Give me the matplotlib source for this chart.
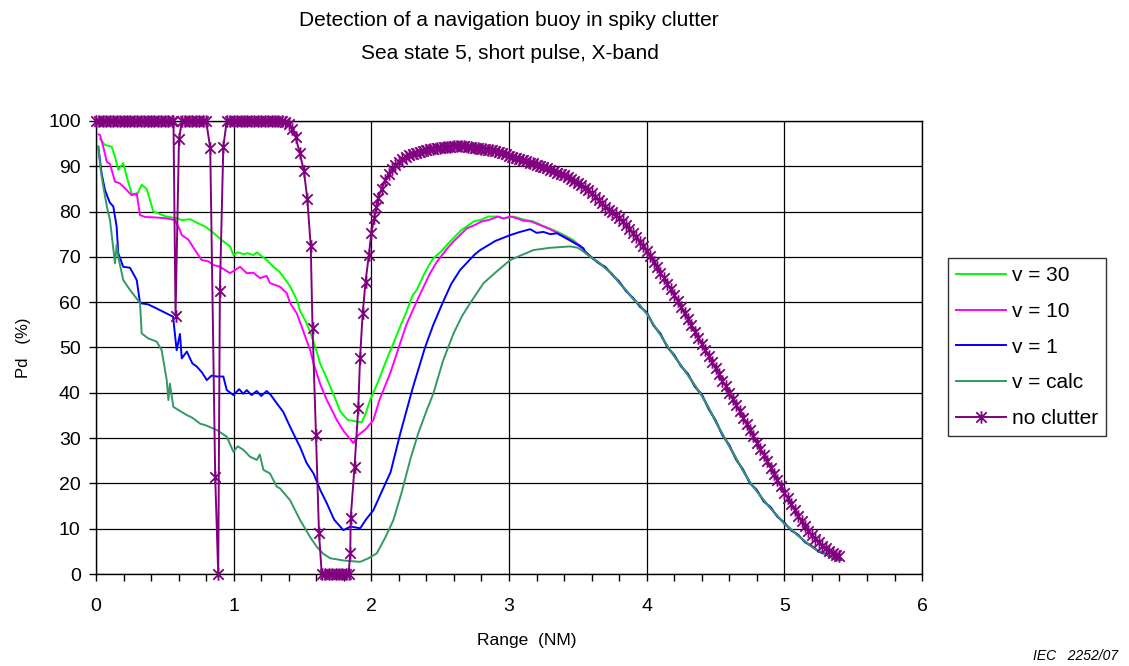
import numpy as np
import matplotlib
matplotlib.use('Agg')
import matplotlib.pyplot as plt
from matplotlib.path import Path
from matplotlib.ticker import MultipleLocator

plt.rcParams['font.family'] = ['Liberation Sans', 'DejaVu Sans']

# ---- data ----
# shared tail where all clutter curves merge (range in NM, Pd in %)
tail_range = [3.55, 3.6, 3.65, 3.7, 3.75, 3.8, 3.85, 3.9, 3.95, 4.0, 4.05, 4.1, 4.15, 4.2,
              4.25, 4.3, 4.35, 4.4, 4.45, 4.5, 4.55, 4.6, 4.65, 4.7, 4.75, 4.8, 4.85, 4.9,
              4.95, 5.0, 5.05, 5.1, 5.15, 5.2, 5.25, 5.3, 5.35, 5.4]
tail_pd = [71.0, 69.8, 68.8, 67.5, 66.2, 64.3, 62.6, 60.8, 59.3, 57.5, 55.0, 52.8, 50.3, 48.1,
           46.0, 43.9, 41.6, 39.4, 36.7, 33.7, 30.9, 28.2, 25.5, 22.8, 20.3, 18.3, 16.3, 14.5,
           12.8, 11.1, 9.8, 8.5, 7.2, 6.0, 5.1, 4.3, 3.6, 3.1]
tail_pd_v1 = [71.3, 69.9, 68.6, 67.8, 66.0, 64.6, 62.4, 61.0, 59.0, 57.8, 54.8, 53.1, 50.0, 48.4,
              45.8, 44.2, 41.3, 39.7, 36.4, 34.0, 30.6, 28.5, 25.2, 23.1, 20.0, 18.6, 16.0, 14.8,
              12.6, 11.4, 9.6, 8.7, 7.0, 6.2, 4.9, 4.5, 3.5, 3.2]

v30_range = [0.03, 0.065, 0.114, 0.138, 0.162, 0.198, 0.223, 0.259, 0.296, 0.332, 0.368,
             0.392, 0.416, 0.453, 0.5, 0.55, 0.6, 0.623, 0.683, 0.743, 0.792, 0.841, 0.913,
             0.974, 0.998, 1.03, 1.07, 1.1, 1.143, 1.17, 1.192, 1.24, 1.289, 1.33, 1.361,
             1.41, 1.459, 1.483, 1.52, 1.555, 1.592, 1.628, 1.664, 1.70, 1.737, 1.773, 1.797,
             1.83, 1.87, 1.9, 1.93, 1.96, 1.991, 2.05, 2.1, 2.16, 2.209, 2.25, 2.3, 2.33, 2.38,
             2.427, 2.451, 2.5, 2.573, 2.65, 2.742, 2.8, 2.85, 2.912, 2.96, 3.033, 3.1, 3.178,
             3.25, 3.347, 3.4, 3.469, 3.52]
v30_pd = [96.0, 94.7, 94.3, 92.1, 89.2, 90.7, 87.7, 84.0, 83.6, 85.9, 85.0,
          82.6, 80.0, 79.6, 79.0, 78.7, 78.4, 78.1, 78.3, 77.4, 76.7, 75.6, 73.7,
          72.3, 70.4, 71.0, 70.6, 70.8, 70.4, 71.0, 70.4, 69.3, 67.8, 66.8, 65.6,
          63.5, 60.5, 58.0, 56.0, 53.5, 50.2, 46.5, 44.0, 41.5, 38.8, 36.0, 35.1,
          34.0, 33.8, 33.6, 33.5, 35.5, 38.4, 42.5, 46.5, 50.9, 54.6, 57.5, 61.5, 62.7, 66.0,
          68.6, 69.7, 71.0, 73.4, 75.8, 77.8, 78.2, 78.9, 78.9, 78.4, 78.9, 78.3, 77.8,
          76.8, 75.6, 74.8, 73.7, 72.2]

v10_range = [0.02, 0.029, 0.053, 0.078, 0.102, 0.138, 0.174, 0.211, 0.259, 0.296, 0.32,
             0.356, 0.429, 0.514, 0.574, 0.61, 0.623, 0.671, 0.719, 0.768, 0.817, 0.853,
             0.901, 0.974, 1.047, 1.095, 1.143, 1.192, 1.24, 1.264, 1.337, 1.385, 1.41,
             1.459, 1.507, 1.555, 1.58, 1.628, 1.677, 1.725, 1.749, 1.8, 1.84, 1.87, 1.9,
             1.96, 2.015, 2.06, 2.137, 2.209, 2.258, 2.35, 2.427, 2.476, 2.55, 2.6, 2.694,
             2.75, 2.8, 2.86, 2.92, 2.96, 3.01, 3.06, 3.1, 3.16, 3.227, 3.29, 3.35, 3.42, 3.517]
v10_pd = [97.0, 96.9, 94.3, 91.0, 90.5, 86.6, 86.2, 85.1, 83.6, 84.0, 79.2,
          78.8, 78.7, 78.5, 78.1, 75.9, 74.8, 73.8, 71.5, 69.3, 69.0, 68.2,
          67.8, 66.4, 67.8, 66.4, 66.5, 65.3, 65.8, 64.2, 63.4, 62.0, 59.8,
          57.5, 53.5, 49.5, 46.5, 42.0, 38.4, 35.5, 34.0, 31.5, 30.0, 28.9, 30.5,
          32.0, 34.0, 38.5, 44.3, 50.9, 55.3, 61.5, 66.4, 68.9, 71.8, 73.5, 76.3,
          77.0, 77.8, 78.2, 78.9, 78.5, 78.9, 78.5, 78.0, 77.8, 77.0, 76.2, 75.3, 74.2, 72.5]

v1_range = [0.017, 0.041, 0.065, 0.1, 0.126, 0.15, 0.162, 0.198, 0.247, 0.296, 0.32, 0.38,
            0.441, 0.514, 0.56, 0.586, 0.61, 0.623, 0.66, 0.70, 0.732, 0.77, 0.805, 0.84,
            0.877, 0.925, 0.95, 0.998, 1.04, 1.07, 1.095, 1.13, 1.168, 1.2, 1.24, 1.27,
            1.313, 1.36, 1.41, 1.45, 1.483, 1.53, 1.58, 1.63, 1.677, 1.73, 1.797, 1.85,
            1.919, 1.96, 2.015, 2.08, 2.14, 2.21, 2.30, 2.39, 2.45, 2.52, 2.58, 2.645, 2.75,
            2.791, 2.9, 3.009, 3.08, 3.154, 3.2, 3.25, 3.3, 3.348, 3.45, 3.541]
v1_pd = [94.3, 88.4, 84.8, 82.0, 81.1, 76.7, 70.8, 67.8, 67.6, 64.9, 59.8, 59.5,
         58.6, 57.5, 56.8, 49.4, 53.0, 47.6, 49.1, 46.5, 45.8, 44.5, 42.8, 43.8,
         43.6, 43.6, 40.6, 39.5, 40.8, 39.8, 40.6, 39.5, 40.4, 39.3, 40.4, 39.5,
         37.7, 35.8, 32.5, 30.0, 28.0, 24.5, 22.2, 18.5, 15.6, 12.0, 9.7, 10.5,
         10.1, 12.0, 14.1, 18.5, 22.5, 31.0, 41.0, 50.0, 55.0, 60.0, 64.0, 67.1, 70.5,
         71.5, 73.5, 74.8, 75.5, 76.1, 75.3, 75.5, 75.0, 75.2, 73.5, 71.9]

calc_range = [0.017, 0.035, 0.053, 0.08, 0.102, 0.138, 0.15, 0.162, 0.198, 0.247, 0.29, 0.32,
              0.332, 0.38, 0.441, 0.477, 0.514, 0.526, 0.537, 0.562, 0.61, 0.659, 0.7, 0.756,
              0.8, 0.877, 0.95, 0.998, 1.03, 1.071, 1.119, 1.168, 1.19, 1.216, 1.264, 1.313,
              1.337, 1.41, 1.483, 1.555, 1.604, 1.65, 1.701, 1.8, 1.919, 1.98, 2.04, 2.1,
              2.16, 2.22, 2.282, 2.34, 2.403, 2.451, 2.52, 2.597, 2.66, 2.718, 2.815, 2.9,
              3.009, 3.1, 3.178, 3.3, 3.445, 3.5]
calc_pd = [94.3, 89.0, 85.5, 81.0, 78.1, 68.6, 72.6, 70.0, 64.9, 62.7, 61.0, 59.8,
           53.1, 52.0, 51.3, 49.4, 42.8, 38.4, 42.0, 36.9, 36.0, 35.1, 34.5, 33.2,
           32.8, 31.8, 30.3, 27.0, 28.2, 27.4, 25.9, 25.2, 26.4, 23.0, 22.2, 19.3,
           18.9, 16.3, 11.9, 8.2, 6.0, 4.5, 3.5, 3.0, 2.7, 3.5, 4.6, 8.0,
           11.9, 18.0, 25.2, 31.0, 36.2, 39.9, 47.0, 53.1, 57.0, 59.8, 64.2, 66.5,
           69.3, 70.5, 71.5, 72.0, 72.3, 72.0]

# no clutter: first part (plateaus and dips), listed point by point
nc_range_a = [0.0, 0.025, 0.05, 0.075, 0.1, 0.125, 0.15, 0.175, 0.2, 0.225, 0.25, 0.275,
              0.3, 0.325, 0.35, 0.375, 0.4, 0.425, 0.45, 0.475, 0.5, 0.525, 0.55,
              0.563, 0.578, 0.603, 0.625, 0.65, 0.675, 0.7, 0.725, 0.75, 0.775, 0.8,
              0.83, 0.866, 0.888, 0.9, 0.925, 0.95, 0.975, 1.0, 1.025, 1.05, 1.075, 1.1,
              1.125, 1.15, 1.175, 1.2, 1.225, 1.25, 1.275, 1.3, 1.325, 1.35,
              1.375, 1.4, 1.425, 1.45, 1.48, 1.51, 1.535, 1.56, 1.573, 1.598, 1.62,
              1.64, 1.665, 1.69, 1.715, 1.74, 1.765, 1.79, 1.815, 1.835,
              1.847, 1.85, 1.878, 1.905, 1.918, 1.937, 1.958, 1.982, 2.0, 2.02, 2.037]
nc_pd_a = [100, 100, 100, 100, 100, 100, 100, 100, 100, 100, 100, 100,
           100, 100, 100, 100, 100, 100, 100, 100, 100, 100, 100,
           100, 57, 96, 100, 100, 100, 100, 100, 100, 100, 100,
           94, 21.5, 0, 62.5, 94.3, 100, 100, 100, 100, 100, 100, 100,
           100, 100, 100, 100, 100, 100, 100, 100, 100, 100,
           99.8, 99.3, 98.3, 96.5, 92.9, 89.0, 82.8, 72.3, 54.2, 30.7, 9.0,
           0, 0, 0, 0, 0, 0, 0, 0, 0,
           4.6, 12.3, 23.7, 36.6, 47.6, 57.5, 64.5, 70.4, 75.2, 78.5, 81.0]
# no clutter: hump, sampled every 0.025 NM from 2.05 NM
nc_pd_b = [83.0, 85.0, 87.0, 88.2, 89.3, 90.3, 91.0, 91.6, 92.1, 92.4,
           92.7, 93.0, 93.2, 93.4, 93.6, 93.8, 93.9, 94.0, 94.1, 94.2,
           94.3, 94.3, 94.4, 94.4, 94.4, 94.4, 94.3, 94.2, 94.1, 94.0,
           93.9, 93.8, 93.6, 93.5, 93.3, 93.1, 92.9, 92.6, 92.3, 92.1,
           91.8, 91.6, 91.3, 91.1, 90.8, 90.6, 90.3, 90.0, 89.8, 89.5,
           89.2, 88.9, 88.6, 88.3, 88.0, 87.6, 87.2, 86.8, 86.4, 85.9,
           85.3, 84.7, 84.0, 83.3, 82.6, 81.8, 81.0, 80.4, 79.8, 79.2,
           78.5, 77.8, 77.0, 76.2, 75.3, 74.3, 73.3, 72.3, 71.3, 70.1,
           68.9, 67.7, 66.5, 65.3, 64.0, 62.8, 61.5, 60.2, 58.9, 57.5,
           56.2, 54.9, 53.5, 52.2, 50.8, 49.5, 48.1, 46.8, 45.4, 44.1,
           42.7, 41.4, 40.0, 38.6, 37.3, 35.9, 34.5, 33.1, 31.8, 30.4,
           29.0, 27.6, 26.3, 24.9, 23.5, 22.1, 20.8, 19.4, 18.0, 16.7,
           15.4, 14.1, 12.8, 11.7, 10.6, 9.6, 8.6, 7.8, 7.0, 6.3,
           5.7, 5.2, 4.7, 4.3, 4.0]
nc_range_b = 2.05 + 0.025 * np.arange(len(nc_pd_b))

x_ticks = [0, 1, 2, 3, 4, 5, 6]
y_ticks = [0, 10, 20, 30, 40, 50, 60, 70, 80, 90, 100]

# ---- figure ----
fig = plt.figure(figsize=(11.29, 6.66), dpi=100)
ax = fig.add_axes([0.085, 0.138, 0.7317, 0.6805])

ax.plot(v30_range + tail_range, v30_pd + tail_pd, color='#00ff00', lw=1.4, label='v = 30', zorder=3)
ax.plot(v10_range + tail_range, v10_pd + tail_pd, color='#ff00ff', lw=1.4, label='v = 10', zorder=4)
ax.plot(v1_range + tail_range, v1_pd + tail_pd_v1, color='#0000ff', lw=1.4, label='v = 1', zorder=5)
ax.plot(calc_range + tail_range, calc_pd + tail_pd, color='#339966', lw=1.4, label='v = calc', zorder=6)

# Excel style star marker: an x with a vertical bar
star = Path([(-1, -1), (1, 1), (-1, 1), (1, -1), (0, -1.2), (0, 1.2)],
            [Path.MOVETO, Path.LINETO, Path.MOVETO, Path.LINETO, Path.MOVETO, Path.LINETO])
nc_range = np.concatenate([nc_range_a, nc_range_b])
nc_pd = np.concatenate([nc_pd_a, nc_pd_b])
ax.plot(nc_range, nc_pd, color='#800080', lw=1.4, marker=star, markersize=9,
        markeredgewidth=1.3, markerfacecolor='none', markeredgecolor='#800080',
        label='no clutter', zorder=7, clip_on=False)

ax.set_xlim(0, 6)
ax.set_ylim(0, 100)
ax.set_xticks(x_ticks)
ax.set_yticks(y_ticks)
ax.xaxis.set_minor_locator(MultipleLocator(0.2))
ax.grid(True, which='major', color='black', lw=0.9)
ax.set_axisbelow(True)
for s in ax.spines.values():
    s.set_color('black')
    s.set_linewidth(1.0)
ax.tick_params(axis='both', which='major', direction='out', length=5, width=1,
               labelsize=14, colors='black')
ax.tick_params(axis='x', which='major', pad=12)
ax.tick_params(axis='y', which='major', pad=6)
ax.tick_params(axis='x', which='minor', direction='out', length=5, width=1)

ax.set_xlabel('Range  (NM)', fontsize=12.5)
ax.xaxis.set_label_coords(0.522, -0.146)
ax.xaxis.label.set_va('center')
ax.set_ylabel('Pd   (%)', fontsize=12, labelpad=12)

fig.text(0.451, 0.969, 'Detection of a navigation buoy in spiky clutter', ha='center', va='center', fontsize=15)
fig.text(0.452, 0.920, 'Sea state 5, short pulse, X-band', ha='center', va='center', fontsize=15)
fig.text(0.99, 0.015, 'IEC   2252/07', ha='right', va='center', fontsize=10, style='italic')

leg = ax.legend(loc='upper left', bbox_to_anchor=(0.8397, 0.6126), bbox_transform=fig.transFigure,
                borderaxespad=0, fontsize=15, frameon=True, fancybox=False, numpoints=1,
                handlelength=2.4, handletextpad=0.25, labelspacing=0.8, borderpad=0.4)
leg.get_frame().set_edgecolor('black')
leg.get_frame().set_linewidth(1.0)

fig.savefig('out.png', dpi=100)
